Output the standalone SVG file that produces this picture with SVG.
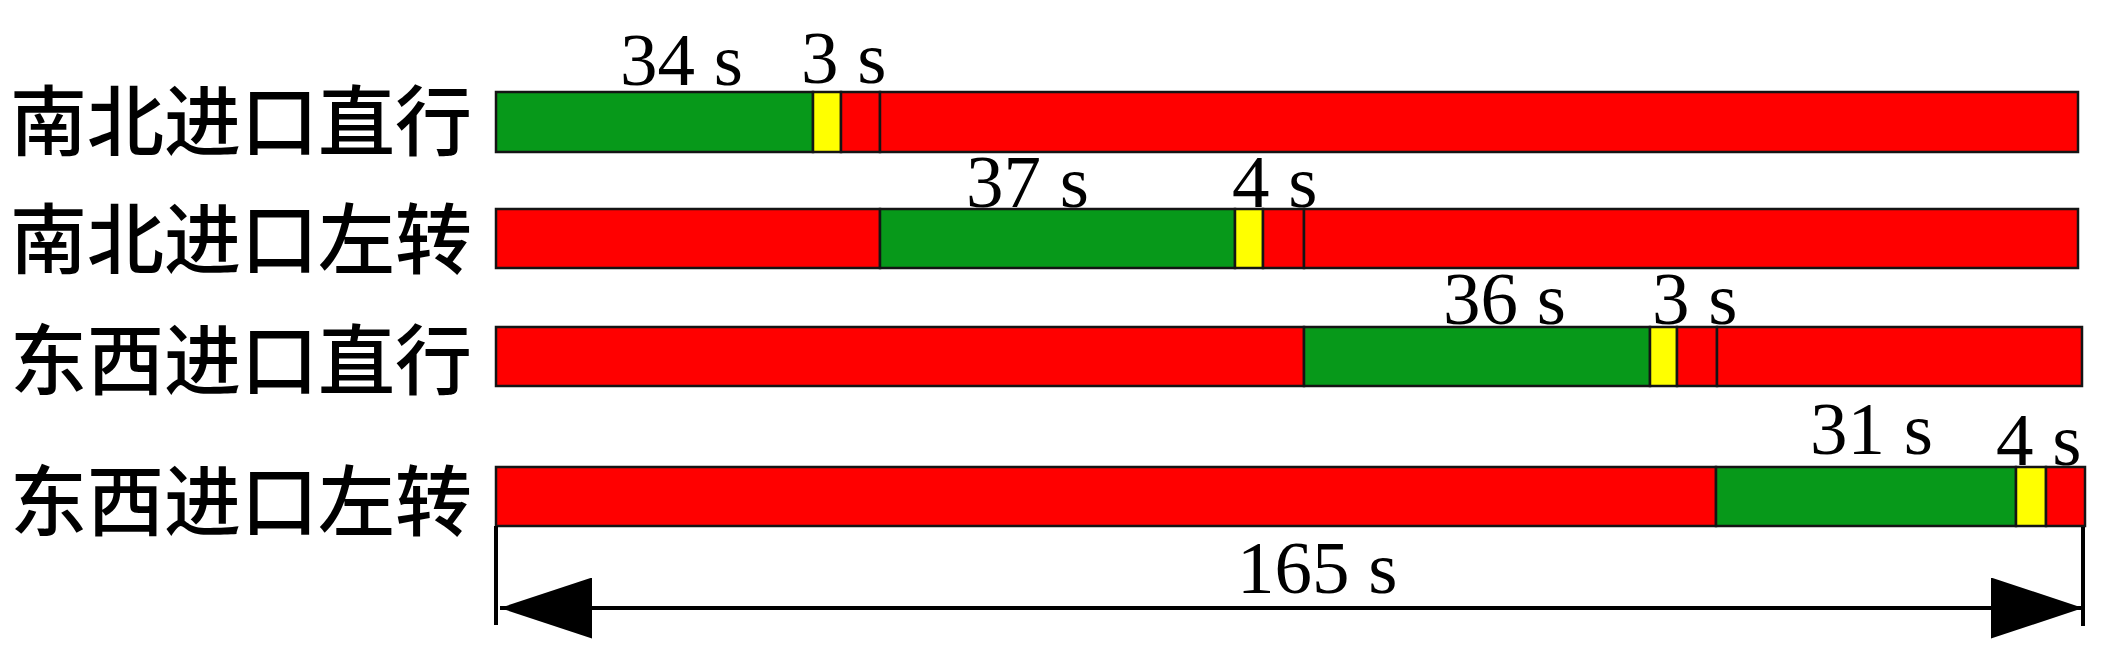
<svg xmlns="http://www.w3.org/2000/svg" width="2102" height="665" viewBox="0 0 2102 665">
<style>
.g{fill:#07991a;stroke:#141414;stroke-width:2.5}
.y{fill:#ffff00;stroke:#141414;stroke-width:2.5}
.r{fill:#ff0000;stroke:#141414;stroke-width:2.5}
.lbl{font-family:"Noto Sans CJK SC","Noto Sans CJK JP",sans-serif;font-size:77px;font-weight:500;fill:#000;dominant-baseline:central}
.t{font-family:"Liberation Serif","Times New Roman",serif;font-size:75px;fill:#000}
.dim{stroke:#000;stroke-width:4;fill:none}
</style>
<defs>
<marker id="ah" viewBox="0 0 92 61" refX="92" refY="30.5" markerWidth="92" markerHeight="61" markerUnits="userSpaceOnUse" orient="auto-start-reverse">
<path d="M0,0 L92,30.5 L0,61 Z" fill="#000"/>
</marker>
</defs>
<rect width="2102" height="665" fill="#fff"/>
<g id="row-ns-through">
<text class="lbl" x="10" y="116">南北进口直行</text>
<rect class="g" x="496" y="92" width="317" height="60"/>
<rect class="y" x="813" y="92" width="28" height="60"/>
<rect class="r" x="841" y="92" width="39" height="60"/>
<rect class="r" x="880" y="92" width="1198" height="60"/>
<text class="t" x="620" y="85">34 s</text>
<text class="t" x="801" y="83">3 s</text>
</g>
<g id="row-ns-left">
<text class="lbl" x="10" y="234">南北进口左转</text>
<rect class="r" x="496" y="209" width="384" height="59"/>
<rect class="g" x="880" y="209" width="355" height="59"/>
<rect class="y" x="1235" y="209" width="28" height="59"/>
<rect class="r" x="1263" y="209" width="41" height="59"/>
<rect class="r" x="1304" y="209" width="774" height="59"/>
<text class="t" x="966" y="207">37 s</text>
<text class="t" x="1232" y="207">4 s</text>
</g>
<g id="row-ew-through">
<text class="lbl" x="10" y="355">东西进口直行</text>
<rect class="r" x="496" y="327" width="808" height="59"/>
<rect class="g" x="1304" y="327" width="346" height="59"/>
<rect class="y" x="1650" y="327" width="27" height="59"/>
<rect class="r" x="1677" y="327" width="40" height="59"/>
<rect class="r" x="1717" y="327" width="365" height="59"/>
<text class="t" x="1443" y="324">36 s</text>
<text class="t" x="1652" y="324">3 s</text>
</g>
<g id="row-ew-left">
<text class="lbl" x="10" y="496">东西进口左转</text>
<rect class="r" x="496" y="467" width="1220" height="59"/>
<rect class="g" x="1716" y="467" width="300" height="59"/>
<rect class="y" x="2016" y="467" width="30" height="59"/>
<rect class="r" x="2046" y="467" width="39" height="59"/>
<text class="t" x="1810" y="454">31 s</text>
<text class="t" x="1996" y="465">4 s</text>
</g>
<g id="connectors">
<line class="dim" x1="496" y1="526" x2="496" y2="625"/>
<line class="dim" x1="2083" y1="527" x2="2083" y2="626"/>
<line class="dim" x1="500" y1="608" x2="2083" y2="608" marker-start="url(#ah)" marker-end="url(#ah)"/>
<text class="t" x="1237" y="593">165 s</text>
</g>
</svg>
